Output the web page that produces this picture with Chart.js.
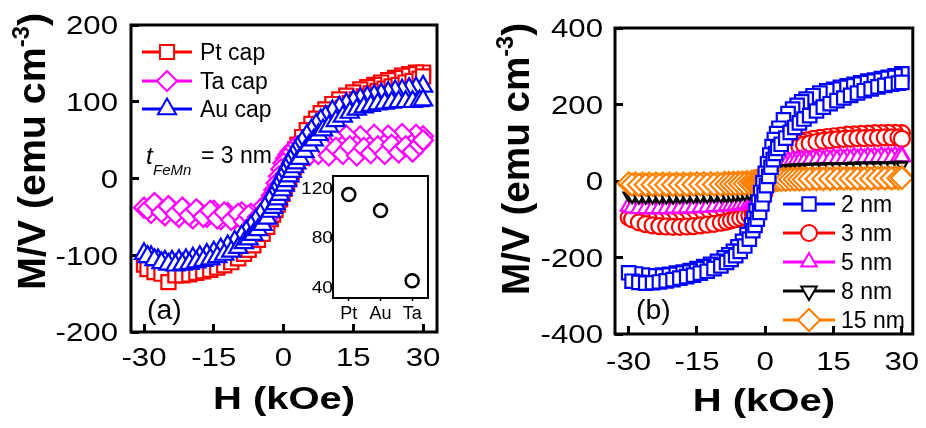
<!DOCTYPE html>
<html>
<head>
<meta charset="utf-8">
<script src="https://cdn.jsdelivr.net/npm/chart.js@4.4.1/dist/chart.umd.min.js"></script>
<style>
  html, body { margin: 0; padding: 0; background: #fff; }
  #page { position: relative; width: 926px; height: 428px; overflow: hidden; }
  .box { position: absolute; }
  canvas { display: block; }
</style>
</head>
<body>
<div id="page">
  <div class="box" style="left:0;top:0;width:463px;height:428px"><canvas id="chartA"></canvas></div>
  <div class="box" style="left:463px;top:0;width:463px;height:428px"><canvas id="chartB"></canvas></div>
  <div class="box" style="left:300px;top:160px;width:140px;height:170px"><canvas id="inset"></canvas></div>
</div>
<script>
// Field values (kOe). The descending branch is listed low -> high and drawn back from +30;
// the ascending branch was sampled between those fields.
const fieldDown = [-30, -28.5, -27, -25.5, -24, -22.5, -21, -19.5, -18, -16.5, -15, -13.5, -12, -10.5, -9,
  -8, -7, -6, -5, -4, -3,
  -2.5, -2, -1.5, -1, -0.5, 0, 0.5, 1, 1.5, 2, 2.5,
  3, 4, 5, 6, 7, 8,
  9, 10.5, 12, 13.5, 15, 16.5, 18, 19.5, 21, 22.5, 24, 25.5, 27, 28.5, 30];
const fieldUp = [-29.25, -27.75, -26.25, -24.75, -23.25, -21.75, -20.25, -18.75, -17.25, -15.75, -14.25, -12.75, -11.25, -9.75, -8.5,
  -7.5, -6.5, -5.5, -4.5, -3.5, -2.75,
  -2.25, -1.75, -1.25, -0.75, -0.25, 0.25, 0.75, 1.25, 1.75, 2.25, 2.75,
  3.5, 4.5, 5.5, 6.5, 7.5, 8.5,
  9.75, 11.25, 12.75, 14.25, 15.75, 17.25, 18.75, 20.25, 21.75, 23.25, 24.75, 26.25, 27.75, 29.25, 30];

const xTicks = [-30, -15, 0, 15, 30];
const yTicksA = [-200, -100, 0, 100, 200];
const yTicksB = [-400, -200, 0, 200, 400];

// (a) cap layers, M/V in emu cm^-3
const ptDown = [-112, -116, -118, -120, -120, -119, -117, -115, -113, -110, -107, -103, -98, -92, -85,
  -79, -72, -64, -55, -45, -35,
  -29, -23, -17, -10, -3, 4, 11, 18, 25, 32, 38,
  44, 54, 63, 71, 78, 85,
  90, 97, 103, 108, 112, 116, 119, 122, 125, 128, 131, 134, 136, 138, 138];
const ptUp = [-118, -122, -124, -135, -126, -126, -125, -123, -121, -119, -116, -113, -109, -104, -98,
  -93, -87, -80, -72, -63, -53,
  -47, -41, -34, -27, -20, -13, -6, 1, 8, 15, 21,
  27, 38, 47, 56, 64, 71,
  77, 85, 92, 98, 103, 107, 111, 114, 117, 120, 122, 125, 127, 130, 133];
const taDown = [-38, -45, -36, -48, -40, -50, -42, -52, -44, -50, -42, -53, -45, -52, -44,
  -50, -46, -52, -40, -35, -28,
  -22, -15, -6, 3, 12, 20, 26, 31, 35, 38, 40,
  42, 46, 45, 52, 44, 54,
  46, 55, 45, 56, 47, 55, 45, 57, 48, 56, 46, 58, 48, 57, 55];
const taUp = [-40, -32, -44, -36, -46, -38, -48, -40, -50, -42, -52, -44, -54, -46, -56,
  -48, -58, -50, -55, -52, -42,
  -38, -33, -27, -20, -12, -4, 5, 13, 20, 26, 30,
  33, 36, 30, 40, 32, 42,
  30, 40, 32, 42, 30, 40, 33, 42, 32, 44, 34, 42, 35, 44, 50];
const auDown = [-98, -102, -106, -108, -108, -107, -106, -104, -102, -99, -96, -92, -88, -82, -75,
  -69, -62, -55, -47, -38, -29,
  -24, -18, -12, -6, 0, 6, 12, 18, 24, 30, 35,
  40, 48, 56, 63, 70, 76,
  81, 88, 93, 97, 101, 104, 106, 108, 110, 112, 114, 115, 117, 118, 120];
const auUp = [-102, -106, -110, -112, -113, -112, -111, -109, -107, -105, -102, -99, -95, -90, -84,
  -79, -73, -67, -60, -52, -43,
  -38, -33, -27, -21, -15, -9, -3, 3, 9, 15, 20,
  26, 35, 43, 50, 57, 63,
  68, 75, 81, 86, 90, 93, 95, 97, 98, 99, 100, 100, 100, 101, 102];

// (b) FeMn thickness series
const nm2Down = [-240, -243, -246, -248, -248, -246, -244, -241, -238, -234, -229, -224, -218, -210, -201,
  -193, -184, -172, -158, -140, -115,
  -98, -78, -55, -30, -5, 20, 45, 68, 90, 108, 124,
  138, 160, 176, 188, 198, 207,
  214, 223, 230, 236, 240, 245, 249, 253, 257, 261, 264, 268, 271, 275, 280];
const nm2Up = [-262, -265, -267, -266, -264, -261, -258, -254, -250, -246, -241, -236, -229, -222, -213,
  -205, -195, -184, -170, -152, -130,
  -116, -100, -82, -60, -36, -12, 12, 36, 56, 72, 85,
  96, 112, 127, 140, 152, 162,
  171, 183, 193, 202, 210, 217, 224, 230, 236, 241, 246, 250, 253, 256, 258];
const nm3Down = [-95, -97, -100, -102, -103, -104, -104, -104, -103, -102, -101, -100, -98, -96, -94,
  -92, -90, -88, -85, -80, -72,
  -64, -52, -38, -22, -5, 12, 28, 42, 54, 63, 70,
  76, 84, 90, 95, 99, 103,
  106, 110, 113, 115, 117, 119, 121, 122, 123, 124, 125, 125, 126, 126, 125];
const nm3Up = [-100, -108, -113, -116, -118, -119, -120, -120, -119, -118, -116, -114, -112, -109, -106,
  -103, -100, -97, -94, -90, -85,
  -80, -74, -64, -50, -34, -16, 2, 20, 35, 47, 56,
  63, 72, 80, 86, 91, 95,
  98, 102, 105, 107, 109, 110, 111, 112, 112, 113, 113, 114, 114, 114, 110];
const nm5Down = [-66, -67, -68, -68, -68, -68, -67, -67, -66, -66, -65, -64, -63, -62, -61,
  -60, -58, -56, -54, -50, -44,
  -38, -30, -20, -9, 3, 14, 24, 32, 38, 42, 45,
  47, 50, 52, 54, 55, 56,
  57, 58, 59, 60, 61, 62, 62, 63, 63, 64, 64, 65, 65, 66, 66];
const nm5Up = [-70, -72, -72, -72, -72, -72, -71, -71, -70, -70, -69, -68, -67, -66, -65,
  -64, -63, -61, -59, -56, -52,
  -48, -43, -36, -27, -16, -5, 6, 16, 24, 30, 35,
  38, 42, 45, 47, 49, 50,
  51, 53, 54, 55, 56, 57, 57, 58, 58, 59, 59, 60, 60, 61, 63];
const nm8Down = [-38, -39, -40, -40, -40, -40, -40, -40, -39, -39, -39, -38, -38, -37, -37,
  -36, -35, -34, -32, -29, -25,
  -21, -16, -10, -4, 2, 8, 14, 19, 23, 26, 28,
  30, 32, 34, 35, 36, 36,
  37, 37, 38, 38, 39, 39, 39, 40, 40, 40, 41, 41, 41, 42, 42];
const nm8Up = [-42, -43, -43, -43, -43, -43, -43, -42, -42, -42, -41, -41, -40, -40, -39,
  -38, -37, -36, -35, -33, -30,
  -28, -25, -21, -16, -10, -4, 2, 8, 13, 17, 21,
  24, 27, 29, 31, 32, 33,
  34, 35, 35, 36, 36, 37, 37, 37, 38, 38, 38, 39, 39, 39, 40];
const nm15Down = [-6, -7, -7, -7, -7, -7, -7, -7, -7, -7, -6, -6, -6, -6, -5,
  -5, -5, -4, -4, -3, -2,
  -1, 0, 1, 2, 3, 3, 4, 4, 5, 5, 5,
  6, 6, 6, 6, 7, 7,
  7, 7, 7, 8, 8, 8, 8, 8, 8, 9, 9, 9, 9, 9, 10];
const nm15Up = [-9, -10, -10, -10, -10, -10, -10, -10, -10, -9, -9, -9, -9, -9, -8,
  -8, -8, -7, -7, -6, -5,
  -5, -4, -3, -2, -1, 0, 1, 1, 2, 2, 3,
  3, 3, 4, 4, 4, 4,
  5, 5, 5, 5, 6, 6, 6, 6, 6, 6, 7, 7, 7, 7, 8];

// inset: saturation magnetization per cap
const capLabels = ['Pt', 'Au', 'Ta'];
const capValues = [115, 102, 45];
const insetTicks = [40, 80, 120];

const FONT = "'Liberation Sans', Arial, sans-serif";

function loop(down, up) {
  const pts = [];
  for (let i = fieldDown.length - 1; i >= 0; i--) pts.push({ x: fieldDown[i], y: down[i] });
  for (let i = 0; i < fieldUp.length; i++) pts.push({ x: fieldUp[i], y: up[i] });
  return pts;
}

function series(label, down, up, color, style, radius, order, rotation, legendRadius) {
  return {
    label: label,
    data: loop(down, up),
    borderColor: color,
    backgroundColor: '#fff',
    borderWidth: 1.5,
    pointStyle: style,
    pointRadius: radius,
    pointRotation: rotation || 0,
    pointBorderWidth: 2.2,
    pointBorderColor: color,
    pointBackgroundColor: '#fff',
    tension: 0,
    fill: false,
    order: order,
    legendRadius: legendRadius || radius
  };
}

// text with y = centre of capitals, optional horizontal stretch
function text(ctx, str, x, y, size, opts) {
  opts = opts || {};
  const sx = opts.sx || 1;
  ctx.save();
  ctx.font = (opts.style || '') + ' ' + size + 'px ' + FONT;
  ctx.fillStyle = '#000';
  ctx.textBaseline = 'alphabetic';
  const w = ctx.measureText(str).width * sx;
  let x0 = x;
  if (opts.align === 'right') x0 = x - w;
  else if (opts.align === 'center') x0 = x - w / 2;
  ctx.translate(x0, y + size * 0.358);
  ctx.scale(sx, 1);
  ctx.fillText(str, 0, 0);
  ctx.restore();
  return w;
}

function yTitle(ctx, cx, yStart, yEnd, size) {
  ctx.save();
  ctx.translate(cx, yStart);
  ctx.rotate(-Math.PI / 2);
  const big = 'bold ' + size + 'px ' + FONT;
  const small = 'bold ' + Math.round(size * 0.6) + 'px ' + FONT;
  ctx.font = big;
  const w1 = ctx.measureText('M/V (emu cm').width;
  const w3 = ctx.measureText(')').width;
  ctx.font = small;
  const w2 = ctx.measureText('-3').width;
  const sx = (yStart - yEnd) / (w1 + w2 + w3);
  ctx.scale(sx, 1);
  ctx.fillStyle = '#000';
  const base = size * 0.358;
  ctx.font = big;
  ctx.fillText('M/V (emu cm', 0, base);
  ctx.font = small;
  ctx.fillText('-3', w1, base - size * 0.42);
  ctx.font = big;
  ctx.fillText(')', w1 + w2, base);
  ctx.restore();
}

function legendRow(ctx, ds, x1, x2, y, tx) {
  ctx.save();
  ctx.strokeStyle = ds.borderColor;
  ctx.lineWidth = 3;
  ctx.beginPath();
  ctx.moveTo(x1, y);
  ctx.lineTo(x2, y);
  ctx.stroke();
  ctx.fillStyle = '#fff';
  ctx.lineWidth = 2;
  Chart.helpers.drawPoint(ctx, {
    pointStyle: ds.pointStyle, radius: ds.legendRadius, rotation: ds.pointRotation, borderWidth: 2
  }, (x1 + x2) / 2, y);
  ctx.restore();
  text(ctx, ds.label, tx, y, 23);
}

function axisTicks(values) {
  return function (scale) { scale.ticks = values.map(v => ({ value: v })); };
}

function mainScales(xMin, xMax, yMin, yMax, yTicks, yWidth, xHeight) {
  const grid = { drawOnChartArea: false, drawTicks: true, tickLength: -8, tickWidth: 3, tickColor: '#000' };
  return {
    x: {
      type: 'linear', min: xMin, max: xMax,
      afterBuildTicks: axisTicks(xTicks),
      ticks: { display: false },
      grid: grid,
      border: { display: false },
      afterFit: s => { s.height = xHeight; }
    },
    y: {
      type: 'linear', min: yMin, max: yMax,
      afterBuildTicks: axisTicks(yTicks),
      ticks: { display: false },
      grid: grid,
      border: { display: false },
      afterFit: s => { s.width = yWidth; }
    }
  };
}

function decorate(opts) {
  return {
    id: 'decorate',
    afterDraw(chart) {
      const ctx = chart.ctx;
      const a = chart.chartArea;
      ctx.save();
      ctx.strokeStyle = '#000';
      ctx.lineWidth = 3;
      ctx.strokeRect(a.left, a.top, a.right - a.left, a.bottom - a.top);
      ctx.restore();
      const xs = chart.scales.x, ys = chart.scales.y;
      xs.ticks.forEach(t => text(ctx, String(t.value), xs.getPixelForValue(t.value), opts.xLabelY, 26, { align: 'center', sx: 1.2 }));
      ys.ticks.forEach(t => text(ctx, String(t.value), opts.yLabelX, ys.getPixelForValue(t.value), 26, { align: 'right', sx: 1.2 }));
      text(ctx, 'H (kOe)', (a.left + a.right) / 2, opts.xTitleY, 32, { align: 'center', style: 'bold', sx: 1.25 });
      yTitle(ctx, opts.yTitleX, opts.yTitleStart, opts.yTitleEnd, 38);
      chart.data.datasets.forEach((ds, i) => {
        legendRow(ctx, ds, opts.legX1, opts.legX2, opts.legY[i], opts.legTX);
      });
      text(ctx, opts.panel, opts.panelX, 309, 27, { sx: 1.05 });
      if (opts.extra) opts.extra(ctx);
    }
  };
}

const common = {
  responsive: true,
  maintainAspectRatio: false,
  animation: false,
  events: [],
  plugins: { legend: { display: false }, tooltip: { enabled: false } }
};

new Chart(document.getElementById('chartA'), {
  type: 'line',
  data: {
    datasets: [
      series('Pt cap', ptDown, ptUp, '#ff0000', 'rect', 10, 3),
      series('Ta cap', taDown, taUp, '#ff00ff', 'rectRot', 10, 2),
      series('Au cap', auDown, auUp, '#0000ff', 'triangle', 10.5, 1)
    ]
  },
  options: Object.assign({}, common, {
    layout: { padding: { top: 25, right: 26, left: 0, bottom: 0 } },
    scales: mainScales(-32.8, 33, -200, 200, yTicksA, 131, 96)
  }),
  plugins: [decorate({
    xLabelY: 357, yLabelX: 118, xTitleY: 398,
    yTitleX: 31, yTitleStart: 290, yTitleEnd: 13,
    legX1: 142, legX2: 192, legY: [52, 81, 109], legTX: 200,
    panel: '(a)', panelX: 147,
    extra: ctx => {
      text(ctx, 't', 146, 155, 24, { style: 'italic' });
      text(ctx, 'FeMn', 153, 170, 15, { style: 'italic' });
      text(ctx, '= 3 nm', 201, 155, 23);
    }
  })]
});

new Chart(document.getElementById('chartB'), {
  type: 'line',
  data: {
    datasets: [
      series('2 nm', nm2Down, nm2Up, '#0000ff', 'rect', 9.5, 1),
      series('3 nm', nm3Down, nm3Up, '#ff0000', 'circle', 8, 5),
      series('5 nm', nm5Down, nm5Up, '#ff00ff', 'triangle', 9, 4),
      series('8 nm', nm8Down, nm8Up, '#000000', 'triangle', 6, 3, 180, 9),
      series('15 nm', nm15Down, nm15Up, '#ff8000', 'rectRot', 11, 2)
    ]
  },
  options: Object.assign({}, common, {
    layout: { padding: { top: 28, right: 9, left: 0, bottom: 0 } },
    scales: mainScales(-33, 32.4, -400, 400, yTicksB, 152, 94)
  }),
  plugins: [decorate({
    xLabelY: 361, yLabelX: 140, xTitleY: 400,
    yTitleX: 52, yTitleStart: 295, yTitleEnd: 23,
    legX1: 320, legX2: 372, legY: [204, 233, 262, 291, 320], legTX: 378,
    panel: '(b)', panelX: 173
  })]
});

new Chart(document.getElementById('inset'), {
  type: 'line',
  data: {
    labels: capLabels,
    datasets: [{
      data: capValues,
      showLine: false,
      pointStyle: 'circle',
      pointRadius: 6.5,
      pointBorderWidth: 2.5,
      pointBorderColor: '#000',
      pointBackgroundColor: '#fff'
    }]
  },
  options: Object.assign({}, common, {
    layout: { padding: { top: 16, right: 12, left: 0, bottom: 0 } },
    scales: {
      x: {
        type: 'category', offset: true,
        ticks: { display: false },
        grid: { drawOnChartArea: false, drawTicks: true, tickLength: 3, tickWidth: 1.5, tickColor: '#000', offset: false },
        border: { display: false },
        afterFit: s => { s.height = 32; }
      },
      y: {
        type: 'linear', min: 31, max: 130,
        afterBuildTicks: axisTicks(insetTicks),
        ticks: { display: false },
        grid: { drawOnChartArea: false, drawTicks: true, tickLength: 3, tickWidth: 1.5, tickColor: '#000' },
        border: { display: false },
        afterFit: s => { s.width = 33; }
      }
    }
  }),
  plugins: [{
    id: 'insetFrame',
    beforeDatasetsDraw(chart) {
      const a = chart.chartArea, ctx = chart.ctx;
      ctx.save();
      ctx.fillStyle = '#fff';
      ctx.fillRect(a.left, a.top, a.right - a.left, a.bottom - a.top);
      ctx.restore();
    },
    afterDraw(chart) {
      const a = chart.chartArea, ctx = chart.ctx;
      ctx.save();
      ctx.strokeStyle = '#000';
      ctx.lineWidth = 2;
      ctx.strokeRect(a.left, a.top, a.right - a.left, a.bottom - a.top);
      ctx.restore();
      const xs = chart.scales.x, ys = chart.scales.y;
      capLabels.forEach((c, i) => text(ctx, c, xs.getPixelForValue(i), 153, 18, { align: 'center' }));
      ys.ticks.forEach(t => text(ctx, String(t.value), 33, ys.getPixelForValue(t.value), 16, { align: 'right', sx: 1.2 }));
    }
  }]
});
</script>
</body>
</html>
